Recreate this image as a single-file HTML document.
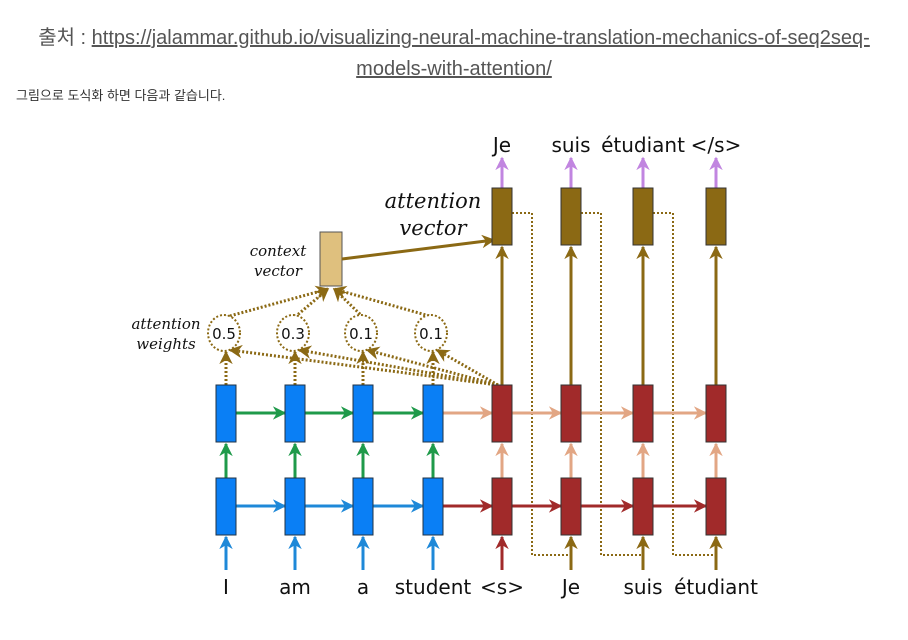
<!DOCTYPE html>
<html><head><meta charset="utf-8">
<style>
html,body{margin:0;padding:0;background:#fff;width:908px;height:640px;overflow:hidden;}
.src{position:absolute;left:0;top:23px;width:908px;text-align:center;font-family:"Liberation Sans","Noto Sans CJK KR",sans-serif;font-size:20px;color:#555;line-height:31px;letter-spacing:0px;}
.src a{color:#555;text-decoration:underline;}
.desc{position:absolute;left:16px;top:85px;font-family:"Liberation Sans","Noto Sans CJK KR",sans-serif;font-size:13px;color:#333;}
svg{position:absolute;left:0;top:0;}
</style></head><body>
<div class="src">출처 : <a>https://jalammar.github.io/visualizing-neural-machine-translation-mechanics-of-seq2seq-<br>models-with-attention/</a></div>
<div class="desc">그림으로 도식화 하면 다음과 같습니다.</div>
<svg id="d" width="908" height="640">
<defs>
<marker id="mk" viewBox="0 0 10 10" refX="9" refY="5" markerWidth="4.5" markerHeight="4.5" orient="auto-start-reverse"><path d="M0,0 L10,5 L0,10 L3,5 z" fill="context-stroke"/></marker>
</defs>
</svg>
<script>
const srcWords=["I","am","a","student"];
const tgtIn=["<s>","Je","suis","étudiant"];
const tgtOut=["Je","suis","étudiant","</s>"];
const weights=["0.5","0.3","0.1","0.1"];
const encX=[226,295,363,433];
const decX=[502,571,643,716];
const svg=document.getElementById('d');
const NS="http://www.w3.org/2000/svg";
function el(t,a,p){const e=document.createElementNS(NS,t);for(const k in a)e.setAttribute(k,a[k]);(p||svg).appendChild(e);return e;}
function arrow(x1,y1,x2,y2,c,w,dash){const l=el('line',{x1,y1,x2,y2,stroke:c,'stroke-width':w||3,'marker-end':'url(#mk)'});if(dash)l.setAttribute('stroke-dasharray',dash);return l;}
const BLUE="#0a7ff5",GREEN="#1f9a4a",LB="#1e88d8",PEACH="#e2a684",RED="#a12a2a",BROWN="#8b6914",PURP="#c185e0",TAN="#dfc07e";
const topY=385,botY=478,bh=57,bw=20,attY=188;
for(let i=0;i<3;i++){
 const p=el('polyline',{points:`${decX[i]+10},213 ${decX[i]+30},213 ${decX[i]+30},555 ${decX[i+1]},555`,fill:'none',stroke:BROWN,'stroke-width':2,'stroke-dasharray':'2,2'});
 
}
encX.forEach((x,i)=>{
 arrow(decX[0]-4,topY,x+4,350,BROWN,3,'2,2');
 arrow(x,topY,x,352,BROWN,3,'2,2');
 arrow(x,317,331+(i<2?-3:3),289,BROWN,3,'2,2');
});
weights.forEach((w,i)=>{
 const c=el('ellipse',{cx:encX[i]-2,cy:333,rx:16,ry:18,fill:'#fff',stroke:BROWN,'stroke-width':2,'stroke-dasharray':'2,2'});
 
 const t=el('text',{x:encX[i]-2,y:339,'text-anchor':'middle','font-family':'DejaVu Sans, sans-serif','font-size':15,fill:'#111'});t.textContent=w;
});
const cv=el('rect',{x:320,y:232,width:22,height:54,fill:TAN,stroke:'#555','stroke-width':1});

arrow(342,259,decX[0]-8,240,BROWN,3);
encX.forEach((x,i)=>{
 arrow(x,570,x,botY+bh+2,LB,3);
 arrow(x,botY,x,topY+bh+2,GREEN,3);
 if(i<3){arrow(x+10,topY+28,encX[i+1]-10,topY+28,GREEN,3);arrow(x+10,botY+28,encX[i+1]-10,botY+28,LB,3);}
 else{arrow(x+10,topY+28,decX[0]-10,topY+28,PEACH,3);arrow(x+10,botY+28,decX[0]-10,botY+28,RED,3);}
 ['t','b'].forEach(r=>{const b=el('rect',{x:x-10,y:r=='t'?topY:botY,width:bw,height:bh,fill:BLUE,stroke:'#234','stroke-width':1});
 });
 const t=el('text',{x:x,y:594,'text-anchor':'middle','font-family':'DejaVu Sans, sans-serif','font-size':20,fill:'#111'});t.textContent=srcWords[i];
});
decX.forEach((x,i)=>{
 arrow(x,570,x,botY+bh+2,i==0?RED:BROWN,3);
 arrow(x,botY,x,topY+bh+2,PEACH,3);
 if(i<3){arrow(x+10,topY+28,decX[i+1]-10,topY+28,PEACH,3);arrow(x+10,botY+28,decX[i+1]-10,botY+28,RED,3);}
 arrow(x,topY,x,attY+bh+2,BROWN,3);
 arrow(x,attY,x,158,PURP,3);
 ['t','b'].forEach(r=>{const b=el('rect',{x:x-10,y:r=='t'?topY:botY,width:bw,height:bh,fill:RED,stroke:'#333','stroke-width':1});
 });
 const a=el('rect',{x:x-10,y:attY,width:bw,height:bh,fill:BROWN,stroke:'#333','stroke-width':1});
 
 const t=el('text',{x:x,y:594,'text-anchor':'middle','font-family':'DejaVu Sans, sans-serif','font-size':20,fill:'#111'});t.textContent=tgtIn[i];
 const o=el('text',{x:x,y:152,'text-anchor':'middle','font-family':'DejaVu Sans, sans-serif','font-size':20,fill:'#111'});o.textContent=tgtOut[i];
});
function lab(x,y,s,sz,txt){const t=el('text',{x,y,'text-anchor':'middle','font-family':'DejaVu Serif, serif','font-style':'italic','font-size':sz,fill:'#111'});t.textContent=txt;}
lab(433,208,0,21,"attention");lab(433,235,0,21,"vector");
lab(278,256,0,15,"context");lab(278,276,0,15,"vector");
lab(166,329,0,15,"attention");lab(166,349,0,15,"weights");
</script>
</body></html>
